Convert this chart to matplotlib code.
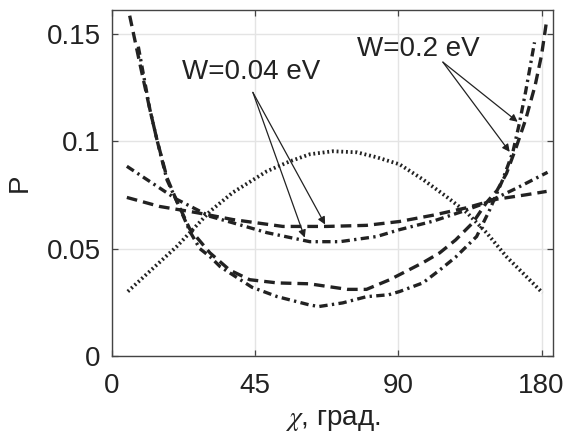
import matplotlib
matplotlib.use("Agg")
import matplotlib.pyplot as plt

plt.rcParams['font.family'] = ['Liberation Sans', 'DejaVu Sans']
plt.rcParams['mathtext.fontset'] = 'stix'

# angle along the axis (tick units), probability P
dot_x = [5, 20.4, 30.8, 38, 48.7, 55.9, 62.2, 69.4, 77, 83.2, 90.4, 97.7, 105, 111.5, 117.7, 124, 129, 135.3]
dot_y = [0.030, 0.051, 0.0673, 0.0761, 0.086, 0.0906, 0.0939, 0.0953, 0.0948, 0.0925, 0.0892, 0.0822,
         0.0743, 0.0668, 0.0574, 0.0462, 0.0388, 0.0294]

# W=0.04 eV
flat_dash_x = [4.7, 15, 26.7, 38, 53.7, 67.5, 80, 90.4, 100.8, 111.5, 121, 130, 136.6]
flat_dash_y = [0.0738, 0.0696, 0.0667, 0.0635, 0.0603, 0.0603, 0.0608, 0.0626, 0.0655, 0.0690, 0.0730, 0.0750, 0.0766]
flat_dd_x = [4.7, 20.4, 30.8, 38, 48.7, 62.2, 71.6, 83.2, 90.4, 100.8, 110, 117.7, 127, 136.9]
flat_dd_y = [0.0883, 0.0729, 0.0650, 0.0620, 0.0574, 0.0532, 0.0532, 0.0556, 0.0588, 0.0627, 0.0672, 0.0714, 0.0780, 0.0855]

# W=0.2 eV
steep_dash_x = [4.5, 8.8, 11.9, 14.1, 17.3, 20.4, 24.5, 30.8, 37, 43.3, 52, 62, 74, 80, 87.3,
                97.7, 103, 108, 113.4, 117.7, 121, 124, 127, 130, 133, 135, 136.6]
steep_dash_y = [0.166, 0.136, 0.115, 0.101, 0.083, 0.072, 0.059, 0.048, 0.040, 0.0355, 0.034, 0.0336,
                0.031, 0.031, 0.0355, 0.0434, 0.048, 0.054, 0.062, 0.0714, 0.077, 0.085, 0.097,
                0.110, 0.126, 0.140, 0.156]
steep_dd_x = [8.3, 11.9, 14.1, 17.3, 20.4, 24.5, 27.6, 31, 34, 44, 52, 62, 65, 72.5, 80, 87,
              90.4, 97.7, 103, 108, 114.6, 118.7, 122.8, 126, 128, 130, 132.8]
steep_dd_y = [0.144, 0.115, 0.101, 0.082, 0.072, 0.058, 0.050, 0.046, 0.0416, 0.032, 0.0276, 0.0238,
              0.023, 0.0247, 0.0276, 0.0285, 0.030, 0.034, 0.040, 0.046, 0.0556, 0.068, 0.082,
              0.095, 0.108, 0.123, 0.146]

xticks = [0, 45, 90, 135]
xticklabels = ['0', '45', '90', '180']
yticks = [0, 0.05, 0.1, 0.15]
yticklabels = ['0', '0.05', '0.1', '0.15']

fig = plt.figure(figsize=(5.68, 4.4), dpi=100)
ax = fig.add_axes([0.197, 0.191, 0.776, 0.786])

lc = '#222222'
lw = 2.4
dotted = (0, (0.5, 0.75))
dashed = (0, (3.2, 1.8))
dashdot = (0, (2.5, 1.3, 0.7, 1.3))
ax.plot(dot_x, dot_y, color=lc, lw=2.7, linestyle=dotted)
ax.plot(flat_dash_x, flat_dash_y, color=lc, lw=lw, linestyle=dashed)
ax.plot(flat_dd_x, flat_dd_y, color=lc, lw=lw, linestyle=dashdot)
ax.plot(steep_dash_x, steep_dash_y, color=lc, lw=lw, linestyle=dashed)
ax.plot(steep_dd_x, steep_dd_y, color=lc, lw=lw, linestyle=dashdot)

arrow = dict(arrowstyle='-|>', color='#222222', lw=0.9, mutation_scale=11, shrinkA=0, shrinkB=0)
ax.annotate('', xy=(67, 0.0612), xytext=(44.3, 0.1227), arrowprops=arrow)
ax.annotate('', xy=(60.6, 0.0551), xytext=(44.3, 0.1227), arrowprops=arrow)
ax.annotate('', xy=(127.5, 0.109), xytext=(104, 0.1368), arrowprops=arrow)
ax.annotate('', xy=(125, 0.095), xytext=(104, 0.1368), arrowprops=arrow)
ax.text(22, 0.1322, 'W=0.04 eV', fontsize=20, va='center', ha='left', color='#222222')
ax.text(77, 0.143, 'W=0.2 eV', fontsize=20, va='center', ha='left', color='#222222')

ax.set_xlim(0, 138.5)
ax.set_ylim(0, 0.161)
ax.set_xticks(xticks)
ax.set_xticklabels(xticklabels)
ax.set_yticks(yticks)
ax.set_yticklabels(yticklabels)
ax.grid(True, color='#e4e4e4', lw=1.0)
ax.set_axisbelow(True)
ax.tick_params(direction='in', length=4, width=0.9, top=True, right=True,
               labelsize=20, colors='#444444', labelcolor='#222222')
ax.tick_params(axis='x', pad=12)
ax.tick_params(axis='y', pad=8)
for s in ax.spines.values():
    s.set_color('#444444')
    s.set_linewidth(1.0)

ax.set_xlabel('$\\chi$, град.', fontsize=20, color='#222222', labelpad=6)
ax.set_ylabel('P', fontsize=20, color='#222222', labelpad=10)

fig.savefig('out.png', dpi=100)
